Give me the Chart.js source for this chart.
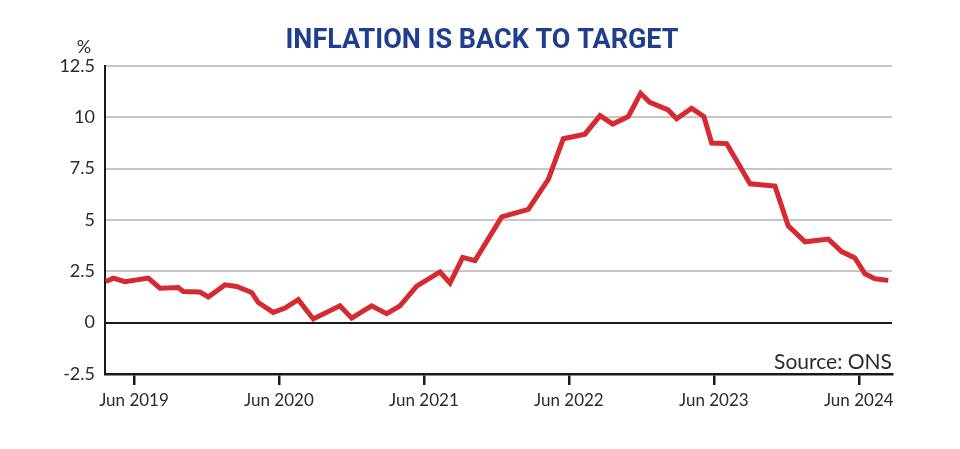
<!DOCTYPE html>
<html>
<head>
<meta charset="utf-8">
<script src="https://cdn.jsdelivr.net/npm/chart.js@4/dist/chart.umd.min.js"></script>
<style>
  html, body { margin: 0; padding: 0; background: #fff; }
  #wrap { width: 960px; height: 449px; }
</style>
</head>
<body>
<div id="wrap"><canvas id="cpiChart" width="960" height="449"></canvas></div>
<script>
// months counted from Jun 2019 (0 = Jun 2019)
const monthOffsets = [-2.34, -1.71, -0.75, 1.18, 2.15, 3.67, 4.08, 5.46, 6.15, 7.53, 8.5, 9.74, 10.29,
  11.53, 12.5, 13.6, 14.84, 17.05, 18.02, 19.67, 20.92, 22.02, 23.4, 25.33, 26.16, 27.21, 28.23,
  30.44, 32.64, 34.3, 35.54, 37.33, 38.58, 39.63, 40.92, 41.94, 42.7, 44.22, 44.92, 46.16, 47.18,
  47.82, 49.06, 51.0, 53.06, 54.16, 55.55, 57.48, 58.58, 59.68, 60.51, 61.34, 62.44];
const cpiValues = [2.0, 2.17, 2.0, 2.17, 1.68, 1.71, 1.52, 1.49, 1.25, 1.84, 1.76, 1.47, 0.98,
  0.5, 0.71, 1.12, 0.18, 0.82, 0.22, 0.82, 0.44, 0.82, 1.78, 2.47, 1.93, 3.18, 3.02,
  5.15, 5.52, 6.98, 8.96, 9.18, 10.08, 9.67, 10.04, 11.17, 10.73, 10.36, 9.93, 10.44, 10.04,
  8.75, 8.72, 6.76, 6.65, 4.72, 3.94, 4.07, 3.46, 3.15, 2.38, 2.14, 2.06];

// x tick positions and labels
const tickMonths = [0, 12, 24, 36, 48, 60];
const tickLabels = ['Jun 2019', 'Jun 2020', 'Jun 2021', 'Jun 2022', 'Jun 2023', 'Jun 2024'];

const titleText = 'INFLATION IS BACK TO TARGET';
const unitText = '%';
const sourceText = 'Source: ONS';

const points = monthOffsets.map((m, i) => ({ x: m, y: cpiValues[i] }));

// title, unit over the y axis and source note
const notesPlugin = {
  id: 'notes',
  afterDraw(chart) {
    const c = chart.ctx;
    const area = chart.chartArea;
    c.save();
    c.textBaseline = 'alphabetic';
    c.fillStyle = '#1f3f8e';
    c.font = 'bold 27px Roboto';
    c.textAlign = 'center';
    c.fillText(titleText, 482, 48);
    c.fillStyle = '#2b2b2b';
    c.font = '18px Lato';
    c.fillText(unitText, 84, 53);
    c.font = '21px Lato';
    c.textAlign = 'right';
    c.fillText(sourceText, area.right, area.bottom - 5);
    c.restore();
  }
};

const ctx = document.getElementById('cpiChart').getContext('2d');
const cpiChart = new Chart(ctx, {
  type: 'line',
  data: {
    datasets: [{
      label: 'CPI inflation',
      data: points,
      borderColor: '#d42a30',
      borderWidth: 5,
      pointRadius: 0,
      fill: false,
      tension: 0,
    }],
  },
  options: {
    responsive: false,
    animation: false,
    layout: { padding: { left: 0, right: 68, top: 66, bottom: 0 } },
    scales: {
      x: {
        type: 'linear',
        min: -2.4,
        max: 62.75,
        afterBuildTicks(scale) {
          scale.ticks = tickMonths.map(v => ({ value: v }));
        },
        afterFit(scale) {
          scale.height = 75;
        },
        ticks: {
          autoSkip: false,
          maxRotation: 0,
          padding: 5,
          color: '#2b2b2b',
          font: { family: 'Lato', size: 17 },
          callback: function (value) {
            const i = tickMonths.indexOf(value);
            return i >= 0 ? tickLabels[i] : '';
          },
        },
        grid: {
          drawOnChartArea: false,
          drawTicks: true,
          tickLength: 11,
          color: '#1a1a1a',
          lineWidth: 2.5,
        },
        border: { display: true, color: '#1a1a1a', width: 2.5 },
      },
      y: {
        min: -2.5,
        max: 12.5,
        afterFit(scale) {
          scale.width = 105;
        },
        ticks: {
          stepSize: 2.5,
          padding: 10,
          color: '#2b2b2b',
          font: { family: 'Lato', size: 18 },
          callback: function (value) {
            return String(value);
          },
        },
        grid: {
          drawTicks: false,
          lineWidth: 2,
          color: function (c) {
            return c.tick && c.tick.value === 0 ? '#1a1a1a' : '#c6c6c6';
          },
        },
        border: { display: true, color: '#1a1a1a', width: 2 },
      },
    },
    plugins: {
      legend: { display: false },
      tooltip: { enabled: false },
      title: { display: false },
    },
  },
  plugins: [notesPlugin],
});
</script>
</body>
</html>
